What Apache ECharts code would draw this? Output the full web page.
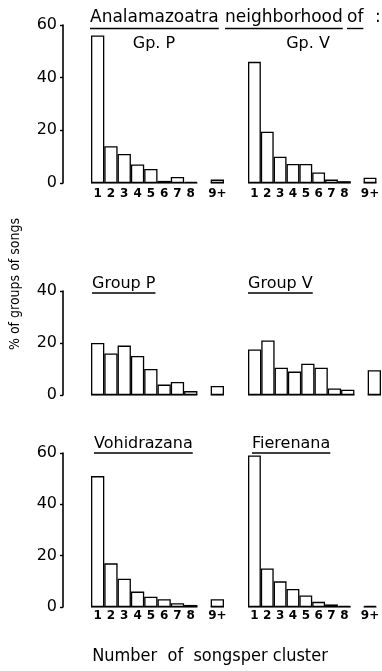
<!DOCTYPE html>
<html>
<head>
<meta charset="utf-8">
<script src="https://cdn.jsdelivr.net/npm/echarts@6/dist/echarts.min.js"></script>
<style>
html,body{margin:0;padding:0;background:#fff;}
#chart{width:382px;height:671px;}
</style>
</head>
<body>
<div id="chart"></div>
<script>
// Categories (number of songs per cluster); '' is the gap before 9+
var categories = ['1','2','3','4','5','6','7','8','','9+'];
// Percent of groups of songs
var analamazoatraGpP = [56, 14, 11, 7, 5.3, 0.8, 2.3, 0.4, null, 1.3];
var analamazoatraGpV = [46, 19.5, 10, 7.2, 7.2, 4, 1.3, 0.7, null, 2];
var groupP = [20, 16, 19, 15, 10, 4, 5, 1.5, null, 3.5];
var groupV = [17.5, 21, 10.5, 9, 12, 10.5, 2.5, 2, null, 9.5];
var vohidrazana = [51, 17, 11, 6, 4, 3, 1.5, 0.8, null, 3];
var fierenana = [59, 15, 10, 7, 4.5, 2, 1, 0.5, null, 0.5];
// Axis ranges / tick steps
var yMaxRows = [60, 40, 60];
var yStep = 20;
var titleMain = ['Analamazoatra', 'neighborhood', 'of', ':'];
var panelTitles = ['Gp. P', 'Gp. V', 'Group P', 'Group V', 'Vohidrazana', 'Fierenana'];
var yAxisName = '% of groups of songs';
var xAxisName = 'Number  of  songsper cluster';

var panels = [
  {data: analamazoatraGpP, row: 0, col: 0},
  {data: analamazoatraGpV, row: 0, col: 1},
  {data: groupP, row: 1, col: 0},
  {data: groupV, row: 1, col: 1},
  {data: vohidrazana, row: 2, col: 0},
  {data: fierenana, row: 2, col: 1}
];
var rowLayout = [{top: 25, height: 158}, {top: 291, height: 104}, {top: 453, height: 154}];
var colLeft = [91, 248];
var gridWidth = 133;
var showXLabels = [true, false, true];

var gapIdx = categories.indexOf('');
var plusIdx = categories.indexOf('9+');

var grids = [], xAxes = [], yAxes = [], series = [];
panels.forEach(function (p, i) {
  grids.push({left: colLeft[p.col], top: rowLayout[p.row].top, width: gridWidth, height: rowLayout[p.row].height, containLabel: false});
  xAxes.push({
    type: 'category', gridIndex: i, data: categories, boundaryGap: true,
    axisLine: {show: false, onZero: false}, axisTick: {show: false},
    axisLabel: {show: showXLabels[p.row], interval: 0, margin: p.row === 0 ? 5 : 3, color: '#000', fontFamily: 'DejaVu Sans', fontWeight: 'bold', fontSize: 12},
    splitLine: {show: false}
  });
  xAxes.push({type: 'value', gridIndex: i, min: 0, max: categories.length, show: false, axisLine: {onZero: false}, splitLine: {show: false}});
  yAxes.push({
    type: 'value', gridIndex: i, min: 0, max: yMaxRows[p.row], interval: yStep,
    show: p.col === 0, offset: 28, position: 'left',
    axisLine: {show: true, onZero: false, lineStyle: {color: '#000', width: 1.6}},
    axisTick: {show: true, length: 3, lineStyle: {color: '#000', width: 1.4}},
    axisLabel: {color: '#000', fontFamily: 'DejaVu Sans', fontSize: 16, margin: 6},
    splitLine: {show: false}
  });
  series.push({
    type: 'bar', xAxisIndex: 2 * i, yAxisIndex: i, data: p.data,
    barCategoryGap: '0%', barWidth: '100%',
    itemStyle: {color: '#fff', borderColor: '#000', borderWidth: 1.3},
    silent: true, animation: false
  });
  series.push({
    type: 'line', xAxisIndex: 2 * i + 1, yAxisIndex: i, symbol: 'none',
    data: [[0, 0], [gapIdx, 0]], lineStyle: {color: '#000', width: 1.6}, animation: false, silent: true
  });
  series.push({
    type: 'line', xAxisIndex: 2 * i + 1, yAxisIndex: i, symbol: 'none',
    data: [[plusIdx, 0], [plusIdx + 1, 0]], lineStyle: {color: '#000', width: 1.6}, animation: false, silent: true
  });
});

// text measurement for underlines
var cv = document.createElement('canvas').getContext('2d');
function w(text, font) { cv.font = font; return cv.measureText(text).width; }

var graphics = [];
var titleFont = '17px "DejaVu Sans"';
var titleX = [90, 225, 347, 375];
titleMain.forEach(function (t, k) {
  var x = titleX[k];
  graphics.push({type: 'text', style: {text: t, x: x, y: 18, font: titleFont, fill: '#000', textVerticalAlign: 'middle'}});
  var tw = w(t, titleFont);
  if (t !== ':') {
    graphics.push({type: 'line', shape: {x1: x, y1: 28.5, x2: x + tw, y2: 28.5}, style: {stroke: '#000', lineWidth: 1.4}});
  }
});
var panelFont = '16px "DejaVu Sans"';
var subPos = [
  {x: 154, y: 44, align: 'center', ul: false},
  {x: 308, y: 44, align: 'center', ul: false},
  {x: 92, y: 284, align: 'left', ul: true, uy: 293},
  {x: 248, y: 284, align: 'left', ul: true, uy: 293},
  {x: 94, y: 444, align: 'left', ul: true, uy: 453},
  {x: 252, y: 444, align: 'left', ul: true, uy: 453}
];
panelTitles.forEach(function (t, k) {
  var s = subPos[k];
  graphics.push({type: 'text', style: {text: t, x: s.x, y: s.y, font: panelFont, fill: '#000', textAlign: s.align, textVerticalAlign: 'middle'}});
  if (s.ul) {
    graphics.push({type: 'line', shape: {x1: s.x, y1: s.uy, x2: s.x + w(t, panelFont), y2: s.uy}, style: {stroke: '#000', lineWidth: 1.4}});
  }
});
graphics.push({type: 'text', rotation: Math.PI / 2, x: 15, y: 284,
  style: {text: yAxisName, x: 0, y: 0, font: '14px "DejaVu Sans Condensed"', fill: '#000', textAlign: 'center', textVerticalAlign: 'middle'}});
graphics.push({type: 'text', style: {text: xAxisName, x: 210, y: 656, font: '18px "DejaVu Sans Condensed"', fill: '#000', textAlign: 'center', textVerticalAlign: 'middle'}});

var chart = echarts.init(document.getElementById('chart'), null, {renderer: 'canvas'});
chart.setOption({
  animation: false,
  backgroundColor: '#fff',
  grid: grids, xAxis: xAxes, yAxis: yAxes, series: series,
  graphic: graphics
});
</script>
</body>
</html>
